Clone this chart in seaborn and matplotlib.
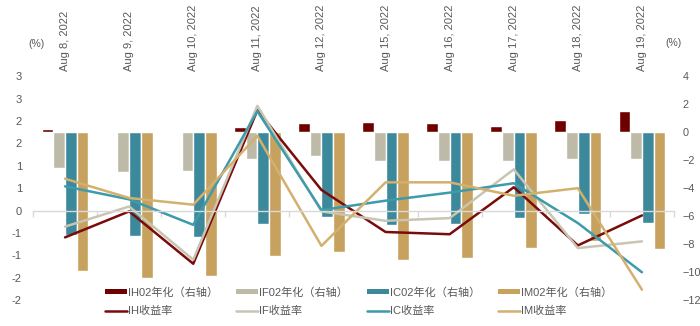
import numpy as np
import pandas as pd
import matplotlib
matplotlib.use("Agg")
import matplotlib.pyplot as plt
import seaborn as sns
from matplotlib.lines import Line2D
from matplotlib.patches import Patch

# ---- data ----
dates = ["Aug 8, 2022", "Aug 9, 2022", "Aug 10, 2022", "Aug 11, 2022", "Aug 12, 2022",
         "Aug 15, 2022", "Aug 16, 2022", "Aug 17, 2022", "Aug 18, 2022", "Aug 19, 2022"]

# annualized basis of the 02 contracts (right axis, %)
ih02_ann = [0.24, 0.10, 0.10, 0.38, 0.65, 0.74, 0.67, 0.43, 0.91, 1.50]
if02_ann = [-2.59, -2.86, -2.74, -1.89, -1.71, -2.07, -2.07, -2.07, -1.95, -1.95]
ic02_ann = [-7.33, -7.43, -7.48, -6.59, -6.07, -6.67, -6.59, -6.12, -5.88, -6.52]
im02_ann = [-9.93, -10.45, -10.29, -8.86, -8.57, -9.17, -9.02, -8.26, -7.78, -8.38]

# daily index returns (left axis, %)
ih_ret = [-0.60, -0.02, -1.19, 2.24, 0.46, -0.48, -0.53, 0.52, -0.78, -0.11]
if_ret = [-0.36, 0.09, -1.10, 2.34, -0.02, -0.23, -0.17, 0.92, -0.84, -0.69]
ic_ret = [0.54, 0.25, -0.32, 2.22, 0.01, 0.22, 0.40, 0.61, -0.28, -1.38]
im_ret = [0.71, 0.28, 0.13, 1.67, -0.79, 0.63, 0.63, 0.33, 0.50, -1.77]

bar_names = ["IH02年化（右轴）", "IF02年化（右轴）", "IC02年化（右轴）", "IM02年化（右轴）"]
line_names = ["IH收益率", "IF收益率", "IC收益率", "IM收益率"]

left_ticks = [-2.0, -1.5, -1.0, -0.5, 0.0, 0.5, 1.0, 1.5, 2.0, 2.5, 3.0]
left_tick_labels = ["-2", "-2", "-1", "-1", "0", "1", "1", "2", "2", "3", "3"]
right_ticks = [-12, -10, -8, -6, -4, -2, 0, 2, 4]

bar_colors = ["#6E0000", "#BDBAA7", "#3B899B", "#C6A25E"]
line_colors = ["#7A0B0B", "#C8C5B3", "#3D9BAB", "#D3B06E"]

# ---- style ----
sns.set_theme(style="white")
plt.rcParams["font.family"] = ["Liberation Sans", "Noto Sans CJK SC", "DejaVu Sans"]
text_color = "#595959"

fig = plt.figure(figsize=(7.0, 3.26), dpi=100)
ax = fig.add_axes([33 / 700, 1 - 300 / 326, (674 - 33) / 700, (300 - 76.3) / 326])
axr = ax.twinx()
ax.set_zorder(2)
axr.set_zorder(1)
ax.patch.set_visible(False)

n = len(dates)
xs = np.arange(n)

# bars on the right axis
bar_df = pd.DataFrame({
    "date": np.tile(dates, 4),
    "series": np.repeat(bar_names, n),
    "value": np.concatenate([ih02_ann, if02_ann, ic02_ann, im02_ann]),
})
sns.barplot(data=bar_df, x="date", y="value", hue="series", order=dates,
            hue_order=bar_names, palette=bar_colors, width=0.73, gap=0,
            saturation=1, ax=axr, legend=False, errorbar=None)

# lines on the left axis
for vals, col in zip([ih_ret, if_ret, ic_ret, im_ret], line_colors):
    sns.lineplot(x=xs, y=vals, color=col, linewidth=1.8, ax=ax, legend=False)

ax.set_xlim(-0.5, n - 0.5)
ax.set_ylim(-2, 3)
axr.set_ylim(-12, 4)

for a in (ax, axr):
    for s in a.spines.values():
        s.set_visible(False)
    a.set_xlabel("")
    a.set_ylabel("")

# category axis sitting at left-axis zero, with boundary ticks
ax.spines["bottom"].set_visible(True)
ax.spines["bottom"].set_position(("data", 0))
ax.spines["bottom"].set_color("#D9D9D9")
ax.spines["bottom"].set_linewidth(1.0)
ax.set_xticks(np.arange(n + 1) - 0.5)
ax.tick_params(axis="x", which="major", bottom=True, length=4, width=1.0,
               color="#D9D9D9", labelbottom=False, direction="out")

# date labels across the top
top = ax.secondary_xaxis("top")
top.set_xticks(xs)
top.set_xticklabels(dates, rotation=90, fontsize=8, color=text_color)
top.tick_params(length=0, pad=4)
for s in top.spines.values():
    s.set_visible(False)

ax.set_yticks(left_ticks)
ax.set_yticklabels(left_tick_labels)
ax.tick_params(axis="y", left=False, length=0, labelleft=True, labelright=False,
               labelsize=8, labelcolor=text_color, pad=8)
axr.set_yticks(right_ticks)
axr.tick_params(axis="y", right=False, length=0, labelright=True, labelleft=False,
                labelsize=7.8, labelcolor=text_color, pad=6)

fig.text(28 / 700, 1 - 44 / 326, "(%)", fontsize=7.5, color=text_color,
         ha="left", va="center")
fig.text(665 / 700, 1 - 43 / 326, "(%)", fontsize=7.5, color=text_color,
         ha="left", va="center")

# legend: one column per index, bar on top and return line below
col_x = [105, 236, 367, 498]
for bc, lc, bn, ln, x0 in zip(bar_colors, line_colors, bar_names, line_names, col_x):
    handles = [Patch(facecolor=bc, edgecolor="none"),
               Line2D([0], [0], color=lc, linewidth=1.8)]
    leg = fig.legend(handles, [bn, ln], ncol=1, loc="upper left",
                     bbox_to_anchor=(x0 / 700, 1 - 287 / 326), frameon=False,
                     fontsize=8, handlelength=1.95, handleheight=0.4,
                     handletextpad=0.15, labelspacing=0.75,
                     borderaxespad=0, borderpad=0)
    for t in leg.get_texts():
        t.set_color(text_color)

fig.savefig("out.png", dpi=100)
